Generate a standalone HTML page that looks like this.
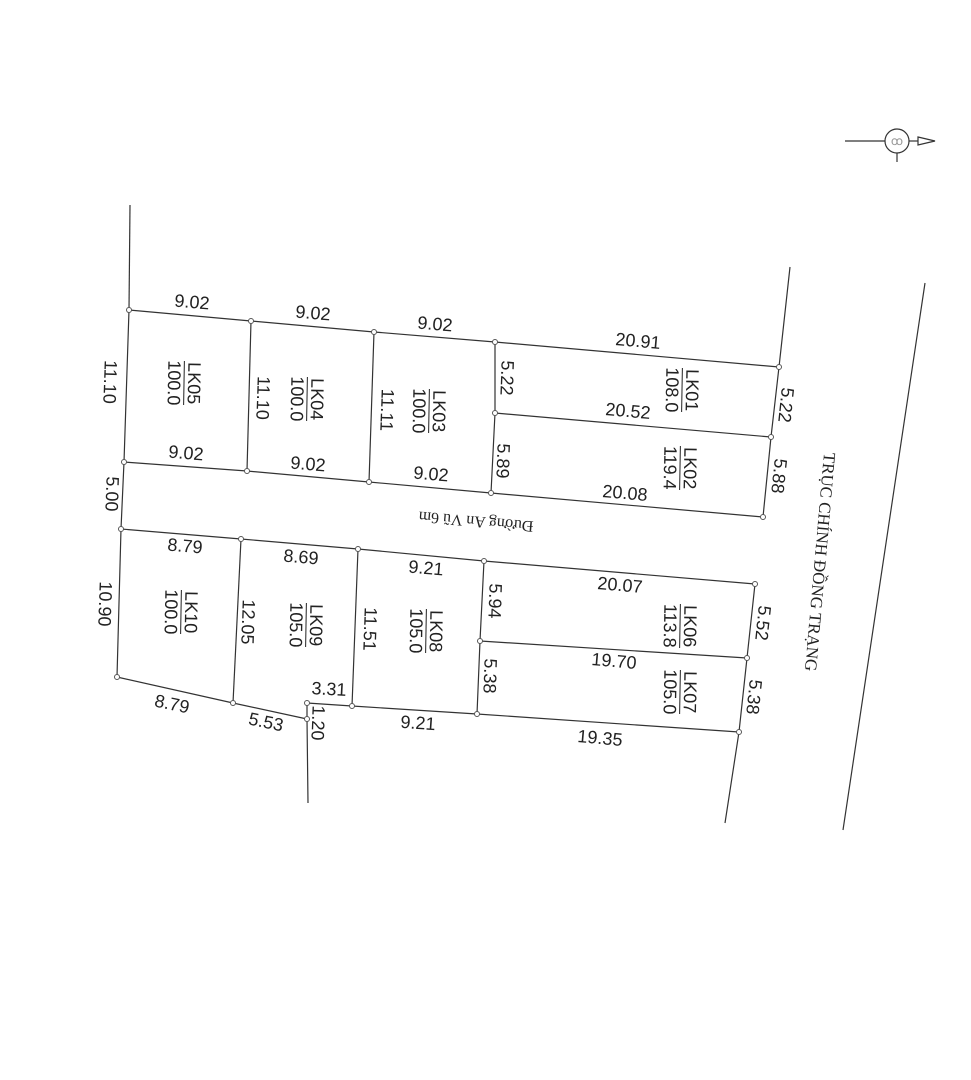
<!DOCTYPE html>
<html><head><meta charset="utf-8"><style>
html,body{margin:0;padding:0;background:#fff;}
svg{display:block;}
text{font-family:"Liberation Sans",sans-serif;font-size:18px;fill:#222;text-anchor:middle;dominant-baseline:central;}
.s{font-family:"Liberation Serif","DejaVu Serif",serif;}
</style></head><body>
<svg width="971" height="1080" viewBox="0 0 971 1080">
<g stroke="#333" stroke-width="1.2" fill="none">
<polyline points="130,205 129,310"/>
<polyline points="129,310 251,321 374,332 495,342 779,367"/>
<polyline points="790,267 779,367 771,437 763,517"/>
<polyline points="495,342 495,413 491,493"/>
<polyline points="495,413 771,437"/>
<polyline points="129,310 124,462 121,529 117,677"/>
<polyline points="251,321 247,471"/>
<polyline points="374,332 369,482"/>
<polyline points="124,462 247,471 369,482 491,493 763,517"/>
<polyline points="121,529 241,539 358,549 484,561 755,584"/>
<polyline points="755,584 747,658 739,732 725,823"/>
<polyline points="480,641 747,658"/>
<polyline points="484,561 480,641 477,714"/>
<polyline points="241,539 233,703"/>
<polyline points="358,549 352,706"/>
<polyline points="117,677 233,703 307,719"/>
<polyline points="307,703 352,706 477,714 739,732"/>
<polyline points="307,703 307,719 308,803"/>
<line x1="925" y1="283" x2="843" y2="830"/>
<line x1="845" y1="141" x2="885" y2="141"/>
<line x1="909" y1="141" x2="918" y2="141"/>
<polygon points="918,137 935,141 918,145"/>
<circle cx="897" cy="141" r="12"/>
<line x1="897" y1="153" x2="897" y2="162"/>
</g>
<g fill="#fff" stroke="#555" stroke-width="1">
<circle cx="129" cy="310" r="2.5"/><circle cx="251" cy="321" r="2.5"/><circle cx="374" cy="332" r="2.5"/><circle cx="495" cy="342" r="2.5"/><circle cx="779" cy="367" r="2.5"/>
<circle cx="495" cy="413" r="2.5"/><circle cx="771" cy="437" r="2.5"/>
<circle cx="124" cy="462" r="2.5"/><circle cx="247" cy="471" r="2.5"/><circle cx="369" cy="482" r="2.5"/><circle cx="491" cy="493" r="2.5"/><circle cx="763" cy="517" r="2.5"/>
<circle cx="121" cy="529" r="2.5"/><circle cx="241" cy="539" r="2.5"/><circle cx="358" cy="549" r="2.5"/><circle cx="484" cy="561" r="2.5"/><circle cx="755" cy="584" r="2.5"/>
<circle cx="480" cy="641" r="2.5"/><circle cx="747" cy="658" r="2.5"/>
<circle cx="117" cy="677" r="2.5"/><circle cx="233" cy="703" r="2.5"/><circle cx="307" cy="719" r="2.5"/><circle cx="307" cy="703" r="2.5"/><circle cx="352" cy="706" r="2.5"/><circle cx="477" cy="714" r="2.5"/><circle cx="739" cy="732" r="2.5"/>
</g>
<text x="897" y="141" style="font-size:12px;fill:#999">ꝏ</text>
<g>
<text transform="translate(192,302) rotate(5)">9.02</text>
<text transform="translate(313,313) rotate(5)">9.02</text>
<text transform="translate(435,324) rotate(5)">9.02</text>
<text transform="translate(638,341) rotate(5)">20.91</text>
<text transform="translate(628,411) rotate(5)">20.52</text>
<text transform="translate(625,493) rotate(5)">20.08</text>
<text transform="translate(186,453) rotate(5)">9.02</text>
<text transform="translate(308,464) rotate(5)">9.02</text>
<text transform="translate(431,474) rotate(5)">9.02</text>
<text transform="translate(185,546) rotate(5)">8.79</text>
<text transform="translate(301,557) rotate(5)">8.69</text>
<text transform="translate(426,568) rotate(5)">9.21</text>
<text transform="translate(620,585) rotate(5)">20.07</text>
<text transform="translate(614,661) rotate(5)">19.70</text>
<text transform="translate(600,738) rotate(5)">19.35</text>
<text transform="translate(172,704) rotate(12)">8.79</text>
<text transform="translate(266,722) rotate(12)">5.53</text>
<text transform="translate(329,689) rotate(3)">3.31</text>
<text transform="translate(418,723) rotate(4)">9.21</text>
</g>
<g>
<text transform="translate(110,382) rotate(92)">11.10</text>
<text transform="translate(263,398) rotate(92)">11.10</text>
<text transform="translate(387,410) rotate(92)">11.11</text>
<text transform="translate(507,378) rotate(92)">5.22</text>
<text transform="translate(503,461) rotate(92)">5.89</text>
<text transform="translate(786,405) rotate(96)">5.22</text>
<text transform="translate(779,476) rotate(96)">5.88</text>
<text transform="translate(112,494) rotate(92)">5.00</text>
<text transform="translate(105,604) rotate(92)">10.90</text>
<text transform="translate(248,622) rotate(92)">12.05</text>
<text transform="translate(370,629) rotate(92)">11.51</text>
<text transform="translate(495,601) rotate(92)">5.94</text>
<text transform="translate(490,676) rotate(92)">5.38</text>
<text transform="translate(763,623) rotate(96)">5.52</text>
<text transform="translate(754,697) rotate(96)">5.38</text>
<text transform="translate(318,723) rotate(92)">1.20</text>
</g>
<g>
<g transform="translate(184,383) rotate(91)"><text y="-10">LK05</text><text y="10">100.0</text><line x1="-22" x2="22" y1="0" y2="0" stroke="#222"/></g>
<g transform="translate(307,399) rotate(91)"><text y="-10">LK04</text><text y="10">100.0</text><line x1="-22" x2="22" y1="0" y2="0" stroke="#222"/></g>
<g transform="translate(429,411) rotate(91)"><text y="-10">LK03</text><text y="10">100.0</text><line x1="-22" x2="22" y1="0" y2="0" stroke="#222"/></g>
<g transform="translate(682,390) rotate(91)"><text y="-10">LK01</text><text y="10">108.0</text><line x1="-22" x2="22" y1="0" y2="0" stroke="#222"/></g>
<g transform="translate(680,468) rotate(91)"><text y="-10">LK02</text><text y="10">119.4</text><line x1="-22" x2="22" y1="0" y2="0" stroke="#222"/></g>
<g transform="translate(181,612) rotate(91)"><text y="-10">LK10</text><text y="10">100.0</text><line x1="-22" x2="22" y1="0" y2="0" stroke="#222"/></g>
<g transform="translate(306,625) rotate(91)"><text y="-10">LK09</text><text y="10">105.0</text><line x1="-22" x2="22" y1="0" y2="0" stroke="#222"/></g>
<g transform="translate(426,631) rotate(91)"><text y="-10">LK08</text><text y="10">105.0</text><line x1="-22" x2="22" y1="0" y2="0" stroke="#222"/></g>
<g transform="translate(680,626) rotate(91)"><text y="-10">LK06</text><text y="10">113.8</text><line x1="-22" x2="22" y1="0" y2="0" stroke="#222"/></g>
<g transform="translate(680,692) rotate(91)"><text y="-10">LK07</text><text y="10">105.0</text><line x1="-22" x2="22" y1="0" y2="0" stroke="#222"/></g>
</g>
<text class="s" transform="translate(476,521) rotate(185)" style="font-size:16px">Đường An Vũ 6m</text>
<text class="s" transform="translate(820,562) rotate(95)" style="font-size:17px">TRỤC CHÍNH ĐỒNG TRẠNG</text>
</svg>
</body></html>
